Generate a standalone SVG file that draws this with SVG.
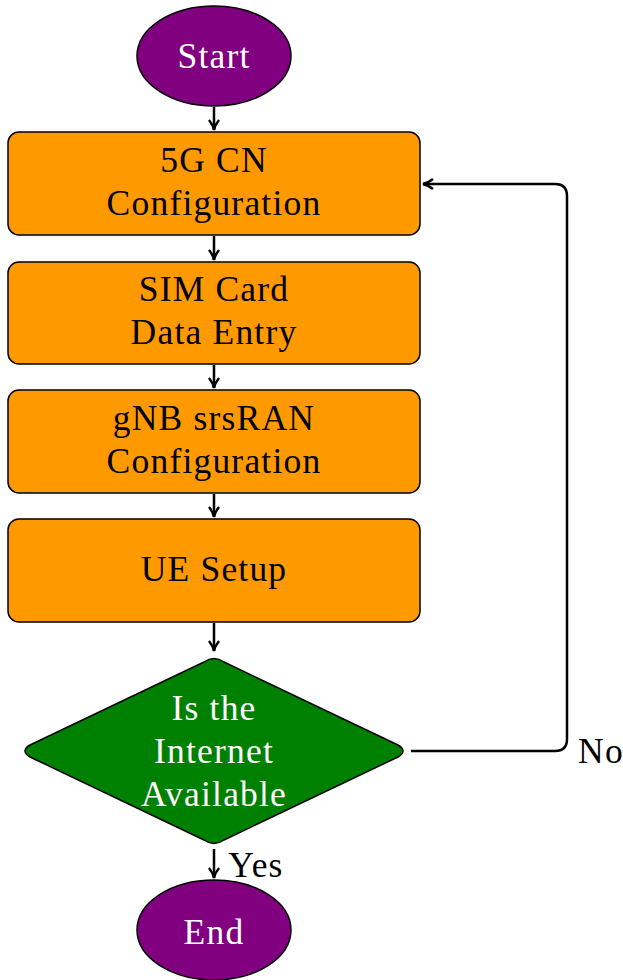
<svg xmlns="http://www.w3.org/2000/svg" width="623" height="980" viewBox="0 0 623 980">
<style>
text{font-family:"Liberation Serif","DejaVu Serif",serif;font-size:35.5px;text-anchor:middle;letter-spacing:1.2px}
.w{fill:#ffffff}
.k{fill:#000000}
.term{fill:#800080;stroke:#000;stroke-width:1.5}
.proc{fill:#FF9900;stroke:#000;stroke-width:1.5}
.dec{fill:#008000;stroke:#000;stroke-width:1.5;stroke-linejoin:round}
.con{fill:none;stroke:#000;stroke-width:2.5}
</style>
<defs>
<marker id="ah" viewBox="0 0 12 12" refX="11" refY="6" markerWidth="12" markerHeight="12" markerUnits="userSpaceOnUse" orient="auto">
<path d="M1,1 Q6,5 11,6 Q6,7 1,11" fill="none" stroke="#000" stroke-width="2.4"/>
</marker>
</defs>
<g id="connectors">
<line class="con" x1="214" y1="107" x2="214" y2="130" marker-end="url(#ah)"/>
<line class="con" x1="214" y1="236" x2="214" y2="260" marker-end="url(#ah)"/>
<line class="con" x1="214" y1="365" x2="214" y2="388" marker-end="url(#ah)"/>
<line class="con" x1="214" y1="494" x2="214" y2="517" marker-end="url(#ah)"/>
<line class="con" x1="214" y1="623" x2="214" y2="651" marker-end="url(#ah)"/>
<line class="con" x1="214" y1="849" x2="214" y2="878" marker-end="url(#ah)"/>
<path class="con" d="M411,751 H555 Q567,751 567,739 V196 Q567,184 555,184 H423" marker-end="url(#ah)"/>
<text class="k" x="256" y="877">Yes</text>
<text class="k" x="601" y="763">No</text>
</g>
<g id="start">
<ellipse class="term" cx="214" cy="56" rx="77" ry="50"/>
<text class="w" x="214" y="68">Start</text>
</g>
<g id="cn">
<rect class="proc" x="8" y="132" width="412" height="103" rx="11"/>
<text class="k" x="214" y="172">5G CN</text>
<text class="k" x="214" y="215">Configuration</text>
</g>
<g id="sim">
<rect class="proc" x="8" y="262" width="412" height="102" rx="11"/>
<text class="k" x="214" y="301">SIM Card</text>
<text class="k" x="214" y="344">Data Entry</text>
</g>
<g id="gnb">
<rect class="proc" x="8" y="390" width="412" height="103" rx="11"/>
<text class="k" x="214" y="430">gNB srsRAN</text>
<text class="k" x="214" y="473">Configuration</text>
</g>
<g id="ue">
<rect class="proc" x="8" y="519" width="412" height="103" rx="11"/>
<text class="k" x="214" y="581">UE Setup</text>
</g>
<g id="decision">
<path class="dec" d="M204,662 Q214,655 224,662 L398,745 Q408,751 398,757 L224,840 Q214,847 204,840 L30,757 Q20,751 30,745 Z"/>
<text class="w" x="214" y="720">Is the</text>
<text class="w" x="214" y="763">Internet</text>
<text class="w" x="214" y="806">Available</text>
</g>
<g id="end">
<ellipse class="term" cx="214" cy="930" rx="77" ry="50"/>
<text class="w" x="214" y="944">End</text>
</g>
</svg>
